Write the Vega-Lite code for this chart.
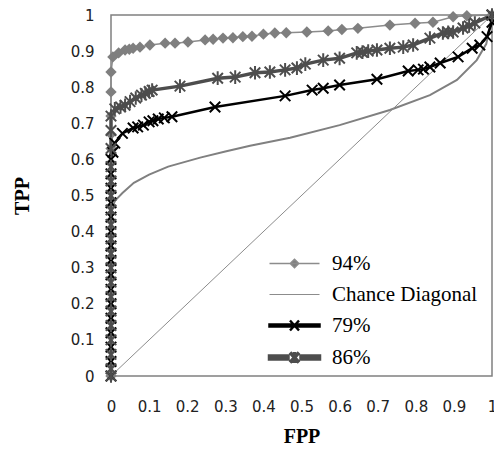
{
  "$schema": "https://vega.github.io/schema/vega-lite/v6.json",
  "width": 381,
  "height": 361,
  "autosize": {"type": "none"},
  "padding": {"left": 111, "top": 15, "right": 2, "bottom": 75},
  "background": "#ffffff",
  "config": {
    "view": {"stroke": "#808080", "strokeWidth": 1.5},
    "axis": {
      "domain": false, "ticks": false, "grid": false,
      "labelFont": "DejaVu Sans", "labelFontSize": 15, "labelColor": "#222222",
      "titleFont": "Liberation Serif", "titleFontWeight": "bold", "titleFontSize": 20, "titleColor": "#000000"
    }
  },
  "datasets": {
    "roc": [
      {"series": "Curve", "fpp": 0, "tpp": 0},
      {"series": "Curve", "fpp": 0, "tpp": 0.2},
      {"series": "Curve", "fpp": 0, "tpp": 0.4},
      {"series": "Curve", "fpp": 0.002, "tpp": 0.46},
      {"series": "Curve", "fpp": 0.01, "tpp": 0.485},
      {"series": "Curve", "fpp": 0.03, "tpp": 0.507},
      {"series": "Curve", "fpp": 0.06, "tpp": 0.535},
      {"series": "Curve", "fpp": 0.1, "tpp": 0.558},
      {"series": "Curve", "fpp": 0.15, "tpp": 0.58},
      {"series": "Curve", "fpp": 0.234, "tpp": 0.605},
      {"series": "Curve", "fpp": 0.3, "tpp": 0.622},
      {"series": "Curve", "fpp": 0.365, "tpp": 0.638},
      {"series": "Curve", "fpp": 0.47, "tpp": 0.66},
      {"series": "Curve", "fpp": 0.6, "tpp": 0.695},
      {"series": "Curve", "fpp": 0.732, "tpp": 0.737},
      {"series": "Curve", "fpp": 0.837, "tpp": 0.778},
      {"series": "Curve", "fpp": 0.908, "tpp": 0.82},
      {"series": "Curve", "fpp": 0.96, "tpp": 0.875},
      {"series": "Curve", "fpp": 0.985, "tpp": 0.92},
      {"series": "Curve", "fpp": 1, "tpp": 1},

      {"series": "Chance Diagonal", "fpp": 0, "tpp": 0},
      {"series": "Chance Diagonal", "fpp": 1, "tpp": 1},

      {"series": "94%", "fpp": 0, "tpp": 0},
      {"series": "94%", "fpp": 0, "tpp": 0.03},
      {"series": "94%", "fpp": 0, "tpp": 0.07},
      {"series": "94%", "fpp": 0, "tpp": 0.11},
      {"series": "94%", "fpp": 0, "tpp": 0.15},
      {"series": "94%", "fpp": 0, "tpp": 0.19},
      {"series": "94%", "fpp": 0, "tpp": 0.23},
      {"series": "94%", "fpp": 0, "tpp": 0.27},
      {"series": "94%", "fpp": 0, "tpp": 0.31},
      {"series": "94%", "fpp": 0, "tpp": 0.35},
      {"series": "94%", "fpp": 0, "tpp": 0.39},
      {"series": "94%", "fpp": 0, "tpp": 0.43},
      {"series": "94%", "fpp": 0, "tpp": 0.47},
      {"series": "94%", "fpp": 0, "tpp": 0.51},
      {"series": "94%", "fpp": 0, "tpp": 0.55},
      {"series": "94%", "fpp": 0, "tpp": 0.59},
      {"series": "94%", "fpp": 0, "tpp": 0.63},
      {"series": "94%", "fpp": 0, "tpp": 0.67},
      {"series": "94%", "fpp": 0, "tpp": 0.72},
      {"series": "94%", "fpp": 0, "tpp": 0.787},
      {"series": "94%", "fpp": 0, "tpp": 0.842},
      {"series": "94%", "fpp": 0.005, "tpp": 0.884},
      {"series": "94%", "fpp": 0.02, "tpp": 0.895},
      {"series": "94%", "fpp": 0.037, "tpp": 0.903},
      {"series": "94%", "fpp": 0.048, "tpp": 0.905},
      {"series": "94%", "fpp": 0.058, "tpp": 0.908},
      {"series": "94%", "fpp": 0.076, "tpp": 0.911},
      {"series": "94%", "fpp": 0.102, "tpp": 0.917},
      {"series": "94%", "fpp": 0.142, "tpp": 0.922},
      {"series": "94%", "fpp": 0.168, "tpp": 0.922},
      {"series": "94%", "fpp": 0.202, "tpp": 0.925},
      {"series": "94%", "fpp": 0.247, "tpp": 0.931},
      {"series": "94%", "fpp": 0.268, "tpp": 0.933},
      {"series": "94%", "fpp": 0.294, "tpp": 0.936},
      {"series": "94%", "fpp": 0.32, "tpp": 0.937},
      {"series": "94%", "fpp": 0.346, "tpp": 0.94},
      {"series": "94%", "fpp": 0.37, "tpp": 0.941},
      {"series": "94%", "fpp": 0.4, "tpp": 0.947},
      {"series": "94%", "fpp": 0.43, "tpp": 0.95},
      {"series": "94%", "fpp": 0.46, "tpp": 0.951},
      {"series": "94%", "fpp": 0.514, "tpp": 0.953},
      {"series": "94%", "fpp": 0.57, "tpp": 0.956},
      {"series": "94%", "fpp": 0.606, "tpp": 0.96},
      {"series": "94%", "fpp": 0.648, "tpp": 0.963},
      {"series": "94%", "fpp": 0.732, "tpp": 0.972},
      {"series": "94%", "fpp": 0.798, "tpp": 0.977},
      {"series": "94%", "fpp": 0.845, "tpp": 0.98},
      {"series": "94%", "fpp": 0.898, "tpp": 0.995},
      {"series": "94%", "fpp": 0.934, "tpp": 0.998},
      {"series": "94%", "fpp": 1, "tpp": 1},

      {"series": "79%", "fpp": 0, "tpp": 0},
      {"series": "79%", "fpp": 0, "tpp": 0.04},
      {"series": "79%", "fpp": 0, "tpp": 0.08},
      {"series": "79%", "fpp": 0, "tpp": 0.12},
      {"series": "79%", "fpp": 0, "tpp": 0.16},
      {"series": "79%", "fpp": 0, "tpp": 0.2},
      {"series": "79%", "fpp": 0, "tpp": 0.24},
      {"series": "79%", "fpp": 0, "tpp": 0.28},
      {"series": "79%", "fpp": 0, "tpp": 0.32},
      {"series": "79%", "fpp": 0, "tpp": 0.36},
      {"series": "79%", "fpp": 0, "tpp": 0.4},
      {"series": "79%", "fpp": 0, "tpp": 0.44},
      {"series": "79%", "fpp": 0, "tpp": 0.48},
      {"series": "79%", "fpp": 0, "tpp": 0.52},
      {"series": "79%", "fpp": 0, "tpp": 0.56},
      {"series": "79%", "fpp": 0, "tpp": 0.6},
      {"series": "79%", "fpp": 0.005, "tpp": 0.62},
      {"series": "79%", "fpp": 0.01, "tpp": 0.645},
      {"series": "79%", "fpp": 0.03, "tpp": 0.672},
      {"series": "79%", "fpp": 0.058, "tpp": 0.687},
      {"series": "79%", "fpp": 0.07, "tpp": 0.69},
      {"series": "79%", "fpp": 0.085, "tpp": 0.695},
      {"series": "79%", "fpp": 0.1, "tpp": 0.704},
      {"series": "79%", "fpp": 0.11, "tpp": 0.707},
      {"series": "79%", "fpp": 0.124, "tpp": 0.712},
      {"series": "79%", "fpp": 0.14, "tpp": 0.715},
      {"series": "79%", "fpp": 0.16, "tpp": 0.718},
      {"series": "79%", "fpp": 0.273, "tpp": 0.745},
      {"series": "79%", "fpp": 0.457, "tpp": 0.776},
      {"series": "79%", "fpp": 0.528, "tpp": 0.792},
      {"series": "79%", "fpp": 0.557, "tpp": 0.797},
      {"series": "79%", "fpp": 0.6, "tpp": 0.806},
      {"series": "79%", "fpp": 0.698, "tpp": 0.822},
      {"series": "79%", "fpp": 0.78, "tpp": 0.845},
      {"series": "79%", "fpp": 0.806, "tpp": 0.848},
      {"series": "79%", "fpp": 0.82, "tpp": 0.85},
      {"series": "79%", "fpp": 0.837, "tpp": 0.856},
      {"series": "79%", "fpp": 0.864, "tpp": 0.867},
      {"series": "79%", "fpp": 0.911, "tpp": 0.884},
      {"series": "79%", "fpp": 0.948, "tpp": 0.908},
      {"series": "79%", "fpp": 0.968, "tpp": 0.917},
      {"series": "79%", "fpp": 0.987, "tpp": 0.94},
      {"series": "79%", "fpp": 1, "tpp": 0.98},
      {"series": "79%", "fpp": 1, "tpp": 1},

      {"series": "86%", "fpp": 0, "tpp": 0},
      {"series": "86%", "fpp": 0, "tpp": 0.02},
      {"series": "86%", "fpp": 0, "tpp": 0.06},
      {"series": "86%", "fpp": 0, "tpp": 0.1},
      {"series": "86%", "fpp": 0, "tpp": 0.14},
      {"series": "86%", "fpp": 0, "tpp": 0.18},
      {"series": "86%", "fpp": 0, "tpp": 0.22},
      {"series": "86%", "fpp": 0, "tpp": 0.26},
      {"series": "86%", "fpp": 0, "tpp": 0.3},
      {"series": "86%", "fpp": 0, "tpp": 0.34},
      {"series": "86%", "fpp": 0, "tpp": 0.38},
      {"series": "86%", "fpp": 0, "tpp": 0.42},
      {"series": "86%", "fpp": 0, "tpp": 0.46},
      {"series": "86%", "fpp": 0, "tpp": 0.5},
      {"series": "86%", "fpp": 0, "tpp": 0.54},
      {"series": "86%", "fpp": 0, "tpp": 0.58},
      {"series": "86%", "fpp": 0, "tpp": 0.63},
      {"series": "86%", "fpp": 0, "tpp": 0.68},
      {"series": "86%", "fpp": 0, "tpp": 0.72},
      {"series": "86%", "fpp": 0.01, "tpp": 0.74},
      {"series": "86%", "fpp": 0.025, "tpp": 0.745},
      {"series": "86%", "fpp": 0.037, "tpp": 0.75},
      {"series": "86%", "fpp": 0.05, "tpp": 0.76},
      {"series": "86%", "fpp": 0.065, "tpp": 0.77},
      {"series": "86%", "fpp": 0.08, "tpp": 0.778},
      {"series": "86%", "fpp": 0.09, "tpp": 0.783},
      {"series": "86%", "fpp": 0.1, "tpp": 0.788},
      {"series": "86%", "fpp": 0.108, "tpp": 0.792},
      {"series": "86%", "fpp": 0.181, "tpp": 0.803},
      {"series": "86%", "fpp": 0.28, "tpp": 0.825},
      {"series": "86%", "fpp": 0.326, "tpp": 0.828},
      {"series": "86%", "fpp": 0.378, "tpp": 0.84},
      {"series": "86%", "fpp": 0.417, "tpp": 0.842},
      {"series": "86%", "fpp": 0.457, "tpp": 0.848},
      {"series": "86%", "fpp": 0.488, "tpp": 0.853},
      {"series": "86%", "fpp": 0.51, "tpp": 0.864},
      {"series": "86%", "fpp": 0.557, "tpp": 0.875},
      {"series": "86%", "fpp": 0.6, "tpp": 0.88},
      {"series": "86%", "fpp": 0.645, "tpp": 0.895},
      {"series": "86%", "fpp": 0.66, "tpp": 0.897},
      {"series": "86%", "fpp": 0.675, "tpp": 0.9},
      {"series": "86%", "fpp": 0.698, "tpp": 0.903},
      {"series": "86%", "fpp": 0.732, "tpp": 0.908},
      {"series": "86%", "fpp": 0.767, "tpp": 0.911},
      {"series": "86%", "fpp": 0.793, "tpp": 0.917},
      {"series": "86%", "fpp": 0.837, "tpp": 0.936},
      {"series": "86%", "fpp": 0.871, "tpp": 0.95},
      {"series": "86%", "fpp": 0.885, "tpp": 0.952},
      {"series": "86%", "fpp": 0.898, "tpp": 0.953},
      {"series": "86%", "fpp": 0.924, "tpp": 0.964},
      {"series": "86%", "fpp": 0.94, "tpp": 0.97},
      {"series": "86%", "fpp": 0.955, "tpp": 0.978},
      {"series": "86%", "fpp": 1, "tpp": 1}
    ]
  },
  "data": {"name": "roc"},
  "encoding": {
    "x": {
      "field": "fpp", "type": "quantitative",
      "scale": {"domain": [0, 1], "nice": false, "zero": false},
      "axis": {"title": "FPP", "values": [0, 0.1, 0.2, 0.3, 0.4, 0.5, 0.6, 0.7, 0.8, 0.9, 1], "format": "~g", "labelPadding": 23, "titlePadding": 12, "labelFlush": false}
    },
    "y": {
      "field": "tpp", "type": "quantitative",
      "scale": {"domain": [0, 1], "nice": false, "zero": false},
      "axis": {"title": "TPP", "values": [0, 0.1, 0.2, 0.3, 0.4, 0.5, 0.6, 0.7, 0.8, 0.9, 1], "format": "~g", "labelPadding": 17, "titlePadding": 38, "labelFlush": false}
    }
  },
  "layer": [
    {
      "transform": [{"filter": "datum.series === 'Curve'"}],
      "mark": {"type": "line", "color": "#808080", "strokeWidth": 2},
      "encoding": {}
    },
    {
      "transform": [{"filter": "datum.series !== 'Curve'"}],
      "mark": {"type": "line"},
      "encoding": {
        "color": {
          "field": "series", "type": "nominal",
          "scale": {"domain": ["94%", "Chance Diagonal", "79%", "86%"], "range": ["#8c8c8c", "#8c8c8c", "#000000", "#4d4d4d"]},
          "legend": {
            "orient": "none", "legendX": 173, "legendY": 238, "title": null, "padding": 0,
            "symbolSize": 100, "labelOffset": 27, "rowPadding": 9,
            "labelFont": "Liberation Serif", "labelFontSize": 21, "labelColor": "#000000",
            "encode": {
              "symbols": {
                "update": {
                  "shape": {"signal": "datum.value === '94%' ? 'M-5,0H5M0,-0.85L0.85,0L0,0.85L-0.85,0Z' : datum.value === 'Chance Diagonal' ? 'M-5,0H5' : datum.value === '79%' ? 'M-5,-0.22H5V0.22H-5ZM-0.9,-1L0.9,1M-0.9,1L0.9,-1' : 'M-5,-0.3H-1.3V0.3H-5ZM1.3,-0.3H5V0.3H1.3ZM-0.9,-1L0.9,1M-0.9,1L0.9,-1M0,-1.1V1.1'"},
                  "fill": {"signal": "datum.value === '94%' ? '#7f7f7f' : datum.value === '79%' ? '#000000' : datum.value === '86%' ? '#4d4d4d' : 'transparent'"},
                  "stroke": {"signal": "datum.value === '79%' ? '#000000' : datum.value === '86%' ? '#6a6a6a' : '#8c8c8c'"},
                  "strokeWidth": {"value": 1.2},
                  "opacity": {"value": 1}
                }
              }
            }
          }
        },
        "strokeWidth": {
          "field": "series", "type": "nominal",
          "scale": {"type": "ordinal", "domain": ["94%", "Chance Diagonal", "79%", "86%"], "range": [1.5, 1, 2.5, 3.5]},
          "legend": null
        }
      }
    },
    {
      "transform": [{"filter": "datum.series === '94%'"}],
      "mark": {"type": "point", "shape": "diamond", "filled": true, "color": "#7f7f7f", "size": 130, "opacity": 1}
    },
    {
      "transform": [{"filter": "datum.series === '79%'"}],
      "mark": {"type": "point", "shape": "M-1,-1L1,1M-1,1L1,-1", "filled": false, "color": "#000000", "strokeWidth": 2, "size": 110, "opacity": 1}
    },
    {
      "transform": [{"filter": "datum.series === '86%'"}],
      "mark": {"type": "point", "shape": "M-1,-1L1,1M-1,1L1,-1M0,-1.3V1.3", "filled": false, "color": "#4d4d4d", "strokeWidth": 2, "size": 110, "opacity": 1}
    }
  ]
}
